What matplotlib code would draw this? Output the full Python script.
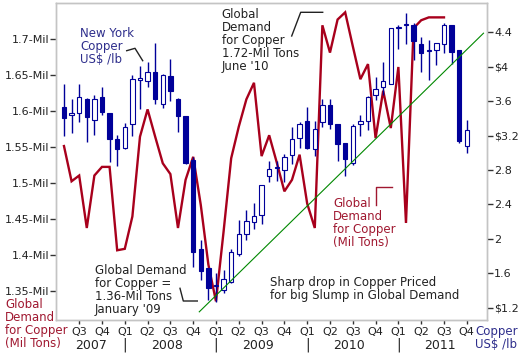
import numpy as np
import matplotlib.pyplot as plt
from matplotlib.lines import Line2D

# monthly copper candles, May 2007 .. Oct 2011 (US$/lb)
cu_open = [3.53, 3.44, 3.46, 3.62, 3.38, 3.65, 3.46, 3.16, 3.05, 3.33,
           3.84, 3.83, 3.94, 3.57, 3.89, 3.62, 3.43, 2.92, 1.88, 1.66,
           1.45, 1.40, 1.50, 1.82, 2.05, 2.19, 2.28, 2.73, 2.82, 2.80,
           2.97, 3.17, 3.37, 3.04, 3.36, 3.56, 3.33, 3.11, 2.88, 3.33,
           3.37, 3.67, 3.77, 3.80, 4.45, 4.48, 4.49, 4.27, 4.18, 4.19,
           4.26, 4.49, 4.19, 3.08]
cu_high = [3.80, 3.62, 3.80, 3.64, 3.67, 3.76, 3.46, 3.21, 3.34, 3.90,
           4.01, 4.05, 4.28, 3.92, 4.09, 3.64, 3.43, 2.95, 1.99, 1.66,
           1.60, 1.64, 1.88, 2.22, 2.33, 2.42, 2.63, 2.90, 2.90, 2.99,
           3.30, 3.36, 3.53, 3.37, 3.63, 3.63, 3.33, 3.11, 3.33, 3.44,
           3.66, 3.88, 4.05, 4.45, 4.49, 4.63, 4.51, 4.34, 4.31, 4.28,
           4.51, 4.49, 4.19, 3.38]
cu_low = [3.19, 3.23, 3.36, 3.13, 3.21, 3.44, 2.89, 2.85, 3.04, 3.19,
          3.51, 3.76, 3.57, 3.52, 3.60, 3.24, 2.87, 1.67, 1.52, 1.29,
          1.27, 1.37, 1.49, 1.80, 1.99, 2.11, 2.17, 2.66, 2.67, 2.66,
          2.87, 3.05, 3.04, 2.96, 3.30, 3.28, 2.90, 2.73, 2.86, 3.19,
          3.27, 3.61, 3.67, 3.80, 4.21, 4.27, 4.08, 3.94, 3.85, 4.02,
          4.16, 4.03, 3.11, 3.00]
cu_close = [3.40, 3.46, 3.65, 3.41, 3.63, 3.47, 3.16, 3.04, 3.30, 3.86,
            3.87, 3.94, 3.62, 3.90, 3.72, 3.43, 2.88, 1.84, 1.62, 1.43,
            1.46, 1.53, 1.84, 2.05, 2.21, 2.26, 2.62, 2.81, 2.83, 2.95,
            3.16, 3.33, 3.05, 3.28, 3.56, 3.33, 3.10, 2.93, 3.31, 3.37,
            3.65, 3.74, 3.83, 4.45, 4.46, 4.50, 4.30, 4.16, 4.19, 4.28,
            4.49, 4.17, 3.14, 3.26]

# global copper demand (Mil tons), May 2007 .. Jul 2011
demand = [1.551, 1.502, 1.510, 1.437, 1.510, 1.522, 1.522, 1.406, 1.408, 1.453,
          1.564, 1.602, 1.564, 1.527, 1.512, 1.437, 1.504, 1.536, 1.469, 1.386,
          1.335, 1.432, 1.534, 1.578, 1.616, 1.639, 1.537, 1.566, 1.528, 1.488,
          1.504, 1.539, 1.471, 1.437, 1.719, 1.681, 1.727, 1.737, 1.690, 1.644,
          1.665, 1.562, 1.628, 1.576, 1.661, 1.444, 1.715, 1.726, 1.730, 1.730,
          1.730]

# trend line (month index, US$/lb)
trend_x = [17.8, 55.2]
trend_y = [1.15, 4.39]

q_labels = ["Q3", "Q4"] + ["Q1", "Q2", "Q3", "Q4"] * 4
years = ["2007", "2008", "2009", "2010", "2011"]
dem_ticks = [1.35, 1.4, 1.45, 1.5, 1.55, 1.6, 1.65, 1.7]
dem_labels = ["1.35-Mil", "1.4-Mil", "1.45-Mil", "1.5-Mil", "1.55-Mil",
              "1.6-Mil", "1.65-Mil", "1.7-Mil"]
px_ticks = [1.2, 1.6, 2.0, 2.4, 2.8, 3.2, 3.6, 4.0, 4.4]
px_labels = ["$1.2", "1.6", "2", "2.4", "2.8", "$3.2", "3.6", "$4", "4.4"]

NAVY = "#000099"
RED = "#A8001C"
TXT = "#222222"
BLUE_TXT = "#2E2E8C"
RED_TXT = "#A01830"

W, H = 525, 354
fig = plt.figure(figsize=(W / 100, H / 100), dpi=100)
ax = fig.add_axes([56 / W, 1 - 320 / H, (487 - 56) / W, (320 - 3) / H])
ax2 = ax.twinx()

x = np.arange(len(cu_open))
ax.set_xlim(-1.05, 55.66)
ax.set_ylim(1.309, 1.750)
ax2.set_ylim(1.055, 4.741)

# demand line
ax.plot(np.arange(len(demand)), demand, color=RED, lw=1.7, solid_joinstyle="miter")

# candles
o = np.array(cu_open); c = np.array(cu_close)
hi = np.array(cu_high); lo = np.array(cu_low)
down = c < o
ax2.vlines(x, lo, hi, color=NAVY, lw=1.0, zorder=2)
bottom = np.minimum(o, c)
height = np.maximum(np.abs(c - o), 0.012)
ax2.bar(x[down], height[down], bottom=bottom[down], width=0.6,
        color=NAVY, edgecolor=NAVY, lw=0.8, zorder=3)
ax2.bar(x[~down], height[~down], bottom=bottom[~down], width=0.6,
        color="white", edgecolor=NAVY, lw=0.8, zorder=3)

ax2.plot(trend_x, trend_y, color="#008800", lw=0.8, zorder=4)

for a in (ax, ax2):
    for s in a.spines.values():
        s.set_color("#c4c4c4")
        s.set_linewidth(1.0)

ax.set_yticks(dem_ticks)
ax.set_yticklabels(dem_labels)
ax.tick_params(axis="y", length=4, width=1, color="#333333", pad=1,
               labelsize=8, labelcolor=TXT)
ax2.set_yticks(px_ticks)
ax2.set_yticklabels(px_labels)
ax2.tick_params(axis="y", length=4, width=1, color="#333333", pad=1,
                labelsize=8, labelcolor=TXT)

q_pos = np.arange(2, 54, 3)
ax.set_xticks(q_pos)
ax.set_xticklabels(q_labels)
ax.tick_params(axis="x", length=3, width=1, color="#333333", pad=2,
               labelsize=8, labelcolor=TXT)

xt = ax.get_xaxis_transform()
year_pos = [3.5, 13.5, 25.5, 37.5, 49.5]
for yp, yl in zip(year_pos, years):
    ax.text(yp, -0.079, yl, transform=xt, ha="center", va="center",
            fontsize=9, color=TXT)
for sp in [8, 20, 32, 44]:
    ax.text(sp, -0.079, "|", transform=xt, ha="center", va="center",
            fontsize=10, color=TXT)


def ftext(px, py, s, color=TXT, size=8.5, **kw):
    fig.text(px / W, 1 - py / H, s, color=color, fontsize=size,
             va="top", ha="left", linespacing=1.0, **kw)


def fline(pts, color=TXT):
    xs = [p[0] / W for p in pts]
    ys = [1 - p[1] / H for p in pts]
    fig.add_artist(Line2D(xs, ys, color=color, lw=1.0))


ftext(80, 27, "New York\nCopper\nUS$ /lb", color=BLUE_TXT)
fline([(126.7, 50.7), (135, 48.3), (142.7, 60.7)])

ftext(221.7, 8, "Global\nDemand\nfor Copper\n1.72-Mil Tons\nJune '10")
fline([(291.7, 36), (300.7, 12.3), (322.7, 12.3)])

ftext(95, 264, "Global Demand\nfor Copper =\n1.36-Mil Tons\nJanuary '09")
fline([(180, 288.3), (183.3, 301), (197.3, 301)])

ftext(333, 197, "Global\nDemand\nfor Copper\n(Mil Tons)", color=RED_TXT)
fline([(376, 205), (376, 186.7), (391.7, 186.7)], color=RED_TXT)

ftext(270, 276, "Sharp drop in Copper Priced\nfor big Slump in Global Demand")

ftext(5, 298, "Global\nDemand\nfor Copper\n(Mil Tons)", color=RED_TXT)
ftext(475, 325, "Copper\nUS$ /lb", color=BLUE_TXT)

fig.savefig("out.png", dpi=100, facecolor="white")
